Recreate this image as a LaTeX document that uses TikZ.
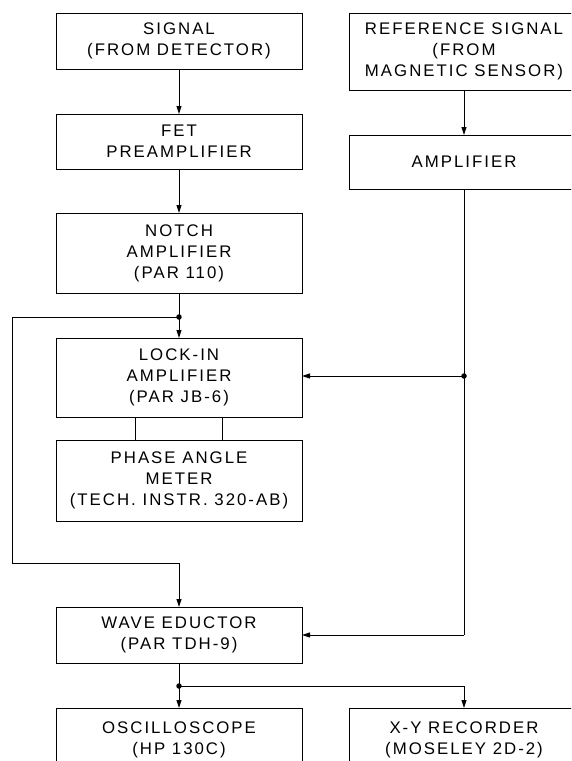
\documentclass[tikz,border=0pt]{standalone}
\usepackage{fontspec}
\setmainfont[LetterSpace=12]{Liberation Sans}
\usetikzlibrary{arrows.meta}
\tikzset{
  blk/.style={draw, line width=0.9pt, inner sep=0pt, outer sep=0pt, align=center,
    font=\fontsize{16.8}{21}\selectfont},
  lblk/.style={blk, minimum width=246pt},
  rblk/.style={blk, minimum width=230pt},
  wire/.style={line width=0.9pt},
  arr/.style={wire, -{Triangle[length=8pt,width=5pt]}},
  dot/.style={circle, fill, inner sep=0pt, minimum size=5.5pt}
}
\begin{document}
\begin{tikzpicture}[x=1pt,y=-1pt]
\clip (0,0) rectangle (571,761);
\fill[white] (0,0) rectangle (571,761);
% left column
\node[lblk, minimum height=56pt] (sig) at (179,41) {SIGNAL\\(FROM DETECTOR)};
\node[lblk, minimum height=55pt] (fet) at (179,141.5) {FET\\PREAMPLIFIER};
\node[lblk, minimum height=80pt] (notch) at (179,253) {NOTCH\\AMPLIFIER\\(PAR 110)};
\node[lblk, minimum height=79pt] (lock) at (179,377.5) {LOCK-IN\\AMPLIFIER\\(PAR JB-6)};
\node[lblk, minimum height=81pt] (phase) at (179,480.5) {PHASE ANGLE\\METER\\(TECH. INSTR. 320-AB)};
\node[lblk, minimum height=56pt] (wave) at (179,635) {WAVE EDUCTOR\\(PAR TDH-9)};
\node[lblk, minimum height=66pt, anchor=north] (osc) at (179,708) {};
\node[font=\fontsize{16.8}{21}\selectfont, align=center, anchor=north] (osct) at (179,718) {OSCILLOSCOPE\\(HP 130C)};
% right column
\node[rblk, minimum height=77pt] (ref) at (464,51.5) {REFERENCE SIGNAL\\(FROM\\MAGNETIC SENSOR)};
\node[rblk, minimum height=54pt] (amp) at (464,162) {AMPLIFIER};
\node[rblk, minimum height=66pt, anchor=north] (xy) at (464,708) {};
\node[font=\fontsize{16.8}{21}\selectfont, align=center, anchor=north] (xyt) at (464,718) {X-Y RECORDER\\(MOSELEY 2D-2)};
% junctions
\node[dot] (j1) at (179,317) {};
\node[dot] (j2) at (464,376) {};
\node[dot] (j3) at (179,686) {};
\coordinate (c1) at (12,317);
\coordinate (c2) at (12,563);
\coordinate (c3) at (179,563);
\coordinate (c4) at (464,635);
\coordinate (c5) at (464,686);
% connectors
\draw[arr] (sig) -- (fet);
\draw[arr] (fet) -- (notch);
\draw[wire] (notch.south) -- (j1.center);
\draw[arr] (j1.center) -- (lock.north);
\draw[wire] (j1.center) -- (c1) -- (c2) -- (c3);
\draw[arr] (c3) -- (wave.north);
\draw[arr] (ref) -- (amp);
\draw[wire] (amp.south) -- (j2.center);
\draw[arr] (j2.center) -- (lock.east |- j2.center);
\draw[wire] (j2.center) -- (c4);
\draw[arr] (c4) -- (wave.east);
\draw[wire] (wave.south) -- (j3.center);
\draw[arr] (j3.center) -- (osc.north);
\draw[wire] (j3.center) -- (c5);
\draw[arr] (c5) -- (xy.north);
\draw[wire] ([xshift=-44pt]lock.south) -- ([xshift=-44pt]phase.north);
\draw[wire] ([xshift=43pt]lock.south) -- ([xshift=43pt]phase.north);
\end{tikzpicture}
\end{document}
